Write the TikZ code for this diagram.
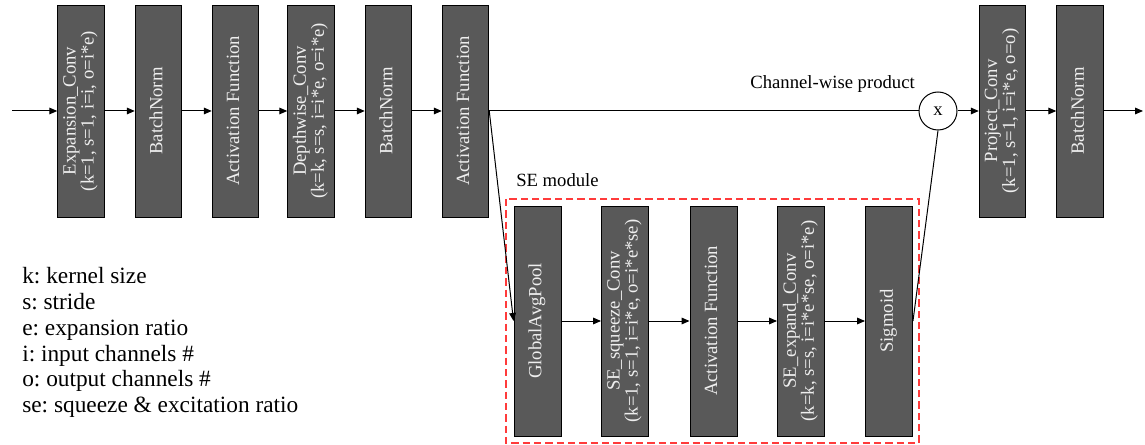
\documentclass[tikz,border=0pt]{standalone}
\usepackage{fontspec}
\setmainfont{Liberation Serif}
\frenchspacing
\usetikzlibrary{arrows.meta}
\definecolor{boxgray}{HTML}{595959}
\definecolor{boxtext}{HTML}{EEEEEE}
\definecolor{sered}{HTML}{FF3B3B}
\tikzset{
  blk/.style={draw=black, line width=0.7pt, fill=boxgray, text=boxtext, inner sep=0pt,
    minimum width=34.9pt, minimum height=159pt, font=\fontsize{14}{13}\selectfont},
  seblk/.style={blk, minimum width=35.25pt, minimum height=172.5pt},
  flow/.style={-{Triangle[length=6pt,width=5pt]}, line width=0.75pt},
  link/.style={line width=0.75pt},
}
\newcommand{\vtext}[1]{\rotatebox{90}{\begin{tabular}{@{}c@{}}#1\end{tabular}}}
\begin{document}
\begin{tikzpicture}[x=0.75pt,y=-0.75pt]
\useasboundingbox (0,0) rectangle (1145,445);
% main path
\node[blk] (expconv) at (81,111) {\vtext{Expansion\_Conv\\(k=1, s=1, i=i, o=i*e)}};
\node[blk] (bn1) at (158.5,111) {\vtext{BatchNorm}};
\node[blk] (act1) at (235.5,111) {\vtext{Activation Function}};
\node[blk] (dwconv) at (311,111) {\vtext{Depthwise\_Conv\\(k=k, s=s, i=i*e, o=i*e)}};
\node[blk] (bn2) at (388.5,111) {\vtext{BatchNorm}};
\node[blk] (act2) at (465.5,111) {\vtext{Activation Function}};
\node[draw, circle, link, minimum size=28.5pt, inner sep=0pt, font=\fontsize{14}{14}\selectfont] (mul) at (938,111) {x};
\node[blk] (projconv) at (1002.5,111) {\vtext{Project\_Conv\\(k=1, s=1, i=i*e, o=o)}};
\node[blk] (bn3) at (1080,111) {\vtext{BatchNorm}};
\coordinate (in) at (12,111);
\coordinate (out) at (1143,111);
\node[anchor=base east, inner sep=0pt, font=\fontsize{14}{14}\selectfont] (cwp) at (915,89) {Channel-wise product};
% SE module
\draw[sered, line width=1.1pt, dash pattern=on 5.5pt off 3pt] (506,199) rectangle (919,443);
\node[anchor=base west, inner sep=0pt, font=\fontsize{14}{14}\selectfont] (selabel) at (516,187) {SE module};
\node[seblk] (pool) at (537.5,321) {\vtext{GlobalAvgPool}};
\node[seblk] (squeeze) at (625,321) {\vtext{SE\_squeeze\_Conv\\(k=1, s=1, i=i*e, o=i*e*se)}};
\node[seblk] (act3) at (713.5,321) {\vtext{Activation Function}};
\node[seblk] (expand) at (801,321) {\vtext{SE\_expand\_Conv\\(k=k, s=s, i=i*e*se, o=i*e)}};
\node[seblk] (sig) at (889,321) {\vtext{Sigmoid}};
% connectors
\draw[flow] (in) -- (expconv.west);
\draw[flow] (expconv) -- (bn1);
\draw[flow] (bn1) -- (act1);
\draw[flow] (act1) -- (dwconv);
\draw[flow] (dwconv) -- (bn2);
\draw[flow] (bn2) -- (act2);
\draw[link] (act2.east) -- (mul.west);
\draw[flow] (mul) -- (projconv);
\draw[flow] (projconv) -- (bn3);
\draw[flow] (bn3.east) -- (out);
\draw[flow] (act2.east) -- (pool.west);
\draw[flow] (pool) -- (squeeze);
\draw[flow] (squeeze) -- (act3);
\draw[flow] (act3) -- (expand);
\draw[flow] (expand) -- (sig);
\draw[link] (sig.east) -- (mul.south);
% legend
\node[anchor=north west, align=left, inner sep=0pt, font=\fontsize{17.5}{19.4}\selectfont] (legend) at (22,267)
  {k: kernel size\\ s: stride\\ e: expansion ratio\\ i: input channels \#\\ o: output channels \#\\ se: squeeze \& excitation ratio};
\end{tikzpicture}
\end{document}
